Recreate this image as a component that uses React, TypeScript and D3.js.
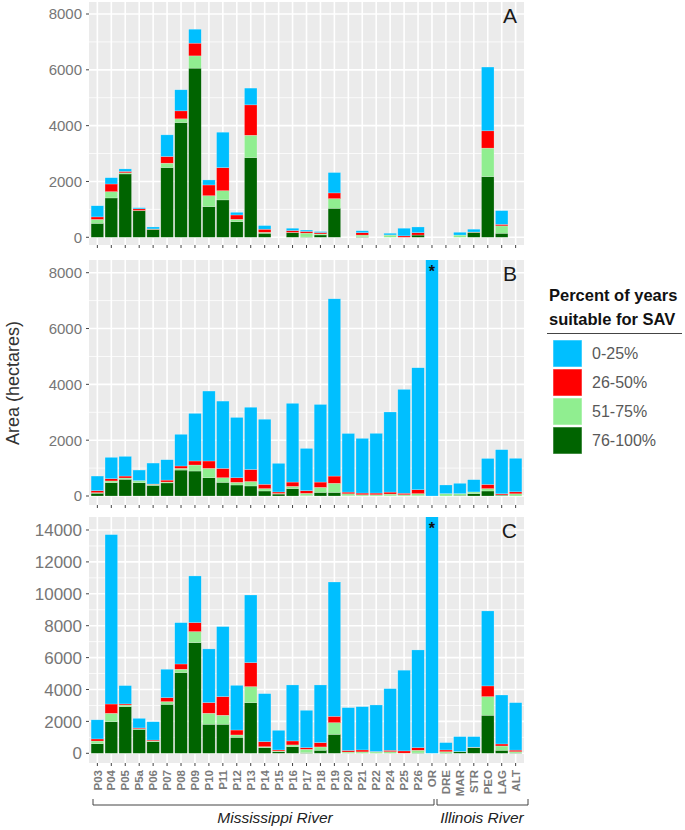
import React, { useEffect, useRef } from "react";
import * as d3 from "d3";

const categories = ["P03", "P04", "P05", "P5a", "P06", "P07", "P08", "P09", "P10", "P11", "P12", "P13", "P14", "P15", "P16", "P17", "P18", "P19", "P20", "P21", "P22", "P24", "P25", "P26", "OR", "DRE", "MAR", "STR", "PEO", "LAG", "ALT"];

// stacked bottom -> top
const seriesKeys = ["76-100%", "51-75%", "26-50%", "0-25%"];
const legendOrder = ["0-25%", "26-50%", "51-75%", "76-100%"];
const seriesColors: Record<string, string> = {
  "0-25%": "#00BFFF",
  "26-50%": "#FF0000",
  "51-75%": "#90EE90",
  "76-100%": "#006400",
};

// Panel A
const aDark = [500, 1410, 2270, 950, 285, 2500, 4110, 6060, 1100, 1340, 560, 2855, 145, 0, 165, 10, 85, 1040, 0, 20, 0, 0, 0, 80, 0, 0, 0, 180, 2175, 145, 0];
const aLight = [140, 225, 40, 10, 5, 155, 135, 440, 390, 330, 85, 800, 35, 0, 10, 140, 35, 345, 0, 60, 0, 80, 0, 0, 0, 0, 80, 5, 1020, 265, 0];
const aRed = [90, 275, 50, 60, 10, 240, 285, 455, 385, 825, 155, 1090, 110, 0, 65, 60, 50, 205, 0, 85, 0, 5, 50, 85, 0, 0, 0, 5, 620, 55, 0];
const aBlue = [400, 225, 90, 40, 70, 775, 755, 500, 180, 1270, 95, 600, 130, 0, 85, 50, 35, 730, 0, 70, 0, 60, 275, 205, 0, 0, 100, 100, 2285, 490, 0];

// Panel B
const bDark = [100, 480, 600, 475, 380, 470, 930, 895, 655, 490, 395, 360, 180, 70, 265, 15, 130, 130, 10, 5, 5, 5, 5, 10, 0, 0, 25, 85, 180, 30, 0];
const bLight = [20, 60, 45, 70, 40, 30, 60, 215, 335, 165, 95, 160, 85, 20, 80, 80, 180, 325, 70, 40, 40, 65, 40, 75, 0, 85, 60, 60, 85, 10, 80];
const bRed = [70, 80, 70, 5, 10, 70, 85, 145, 265, 335, 165, 430, 155, 55, 155, 95, 190, 260, 60, 60, 60, 70, 55, 140, 0, 0, 0, 0, 150, 40, 70];
const bBlue = [525, 765, 705, 380, 750, 730, 1135, 1705, 2505, 2410, 2160, 2230, 2330, 1025, 2820, 1515, 2780, 6350, 2100, 1960, 2140, 2870, 3720, 4370, 9500, 310, 370, 440, 930, 1580, 1200];

// Panel C
const cDark = [600, 1985, 2925, 1500, 730, 3070, 5060, 6940, 1820, 1820, 1000, 3175, 355, 100, 420, 40, 190, 1190, 10, 10, 10, 10, 0, 20, 0, 20, 100, 355, 2385, 190, 20];
const cLight = [170, 520, 100, 40, 40, 170, 210, 690, 690, 565, 150, 1005, 60, 40, 105, 210, 210, 730, 70, 80, 80, 90, 10, 170, 0, 80, 10, 20, 1170, 270, 80];
const cRed = [130, 585, 70, 50, 60, 250, 330, 565, 670, 1170, 310, 1505, 315, 70, 250, 105, 270, 400, 100, 120, 20, 90, 140, 165, 0, 110, 0, 10, 670, 125, 100];
const cBlue = [1200, 10620, 1150, 600, 1150, 1780, 2590, 2925, 3365, 4390, 2800, 4240, 3010, 1230, 3510, 2340, 3615, 8420, 2685, 2715, 2920, 3865, 5060, 6125, 16000, 460, 935, 660, 4700, 3070, 2975];

const ticks8k = [0, 2000, 4000, 6000, 8000];
const minor8k = [1000, 3000, 5000, 7000];
const ticks14k = [0, 2000, 4000, 6000, 8000, 10000, 12000, 14000];
const minor14k = [1000, 3000, 5000, 7000, 9000, 11000, 13000];

const panels = [
  { letter: "A", top: 2, bottom: 245, yMin: -276, yMax: 8430, ticks: ticks8k, minor: minor8k, font: 15, star: false, values: [aDark, aLight, aRed, aBlue] },
  { letter: "B", top: 260, bottom: 505, yMin: -322, yMax: 8455, ticks: ticks8k, minor: minor8k, font: 15, star: true, values: [bDark, bLight, bRed, bBlue] },
  { letter: "C", top: 517, bottom: 763, yMin: -608, yMax: 14815, ticks: ticks14k, minor: minor14k, font: 17, star: true, values: [cDark, cLight, cRed, cBlue] },
];

const FONT = "'Liberation Sans', Arial, sans-serif";

export default function App() {
  const ref = useRef<SVGSVGElement>(null);

  useEffect(() => {
    const svg = d3.select(ref.current);
    svg.selectAll("*").remove();

    const left = 89;
    const right = 524;
    const x = d3.scaleBand().domain(categories).range([left, right]).paddingInner(0.1).paddingOuter(0.15);
    const cx = (c: string) => (x(c) as number) + x.bandwidth() / 2;

    panels.forEach((p, pi) => {
      const y = d3.scaleLinear().domain([p.yMin, p.yMax]).range([p.bottom, p.top]);
      const g = svg.append("g");

      g.append("rect").attr("x", left).attr("y", p.top).attr("width", right - left)
        .attr("height", p.bottom - p.top).attr("fill", "#EBEBEB");

      g.selectAll(".minor").data(p.minor).join("line")
        .attr("x1", left).attr("x2", right).attr("y1", d => y(d)).attr("y2", d => y(d))
        .attr("stroke", "white").attr("stroke-width", 0.8);
      g.selectAll(".major").data(p.ticks).join("line")
        .attr("x1", left).attr("x2", right).attr("y1", d => y(d)).attr("y2", d => y(d))
        .attr("stroke", "white").attr("stroke-width", 1.6);
      g.selectAll(".vgrid").data(categories).join("line")
        .attr("x1", d => cx(d)).attr("x2", d => cx(d)).attr("y1", p.top).attr("y2", p.bottom)
        .attr("stroke", "white").attr("stroke-width", 1.6);

      const rows = categories.map((c, i) => {
        const r: any = { cat: c };
        seriesKeys.forEach((k, j) => { r[k] = p.values[j][i]; });
        return r;
      });
      const stacked = d3.stack().keys(seriesKeys)(rows);

      const clipId = "clip" + pi;
      svg.append("clipPath").attr("id", clipId).append("rect")
        .attr("x", left).attr("y", p.top).attr("width", right - left).attr("height", p.bottom - p.top);

      const bars = g.append("g").attr("clip-path", `url(#${clipId})`);
      stacked.forEach(s => {
        bars.selectAll(null).data(s.filter(d => d[1] - d[0] > 0)).join("rect")
          .attr("x", d => x(d.data.cat as any) as number)
          .attr("width", x.bandwidth())
          .attr("y", d => y(d[1]))
          .attr("height", d => y(d[0]) - y(d[1]))
          .attr("fill", seriesColors[s.key])
          .attr("stroke", "white").attr("stroke-opacity", 0.45).attr("stroke-width", 0.5);
      });

      // y axis
      g.selectAll(".ytick").data(p.ticks).join("line")
        .attr("x1", left - 3).attr("x2", left).attr("y1", d => y(d)).attr("y2", d => y(d))
        .attr("stroke", "#444").attr("stroke-width", 1);
      g.selectAll(".ylab").data(p.ticks).join("text")
        .attr("x", left - 7).attr("y", d => y(d)).attr("dy", "0.36em")
        .attr("text-anchor", "end").attr("font-family", FONT).attr("font-size", p.font)
        .attr("fill", "#767676").text(d => String(d));

      // x ticks
      g.selectAll(".xtick").data(categories).join("line")
        .attr("x1", d => cx(d)).attr("x2", d => cx(d)).attr("y1", p.bottom).attr("y2", p.bottom + 3)
        .attr("stroke", "#444").attr("stroke-width", 1);

      g.append("text").attr("x", 517).attr("y", p.top + 21).attr("text-anchor", "end")
        .attr("font-family", FONT).attr("font-size", 21).attr("fill", "#1a1a1a").text(p.letter);

      if (p.star) {
        g.append("text").attr("x", cx("OR")).attr("y", p.top + 17).attr("text-anchor", "middle")
          .attr("font-family", FONT).attr("font-weight", "bold").attr("font-size", 16)
          .attr("fill", "#111").text("*");
      }

      if (pi === panels.length - 1) {
        g.selectAll(".xlab").data(categories).join("text")
          .attr("transform", d => `translate(${cx(d)},${p.bottom + 7}) rotate(-90)`)
          .attr("dy", "0.36em").attr("text-anchor", "end")
          .attr("font-family", FONT).attr("font-weight", "bold").attr("font-size", 11.5)
          .attr("fill", "#7a7a7a").text(d => d);
      }
    });

    // y axis title
    svg.append("text").attr("transform", "translate(19,383) rotate(-90)")
      .attr("text-anchor", "middle").attr("font-family", FONT).attr("font-size", 18)
      .attr("fill", "#333").text("Area (hectares)");

    // river brackets
    const bracket = (x0: number, x1: number) =>
      svg.append("path").attr("d", `M${x0},799V805H${x1}V799`).attr("fill", "none")
        .attr("stroke", "#444").attr("stroke-width", 1);
    bracket(93, 434);
    bracket(437, 528);
    svg.append("text").attr("x", 275).attr("y", 823).attr("text-anchor", "middle")
      .attr("font-family", FONT).attr("font-style", "italic").attr("font-size", 15.5)
      .attr("fill", "#222").text("Mississippi River");
    svg.append("text").attr("x", 482).attr("y", 823).attr("text-anchor", "middle")
      .attr("font-family", FONT).attr("font-style", "italic").attr("font-size", 15.5)
      .attr("fill", "#222").text("Illinois River");

    // legend
    const lg = svg.append("g");
    lg.append("text").attr("x", 549).attr("y", 301).attr("font-family", FONT)
      .attr("font-weight", "bold").attr("font-size", 16.5).attr("fill", "#111").text("Percent of years");
    lg.append("text").attr("x", 549).attr("y", 325).attr("font-family", FONT)
      .attr("font-weight", "bold").attr("font-size", 16.5).attr("fill", "#111").text("suitable for SAV");
    lg.append("line").attr("x1", 547).attr("x2", 682).attr("y1", 333.5).attr("y2", 333.5)
      .attr("stroke", "#444").attr("stroke-width", 1);
    lg.selectAll(".key").data(legendOrder).join("rect")
      .attr("x", 553).attr("y", (d, i) => 340 + i * 29).attr("width", 29).attr("height", 27)
      .attr("fill", d => seriesColors[d]).attr("stroke", "white").attr("stroke-opacity", 0.5);
    lg.selectAll(".klab").data(legendOrder).join("text")
      .attr("x", 592).attr("y", (d, i) => 353.5 + i * 29).attr("dy", "0.36em")
      .attr("font-family", FONT).attr("font-size", 16).attr("fill", "#595959").text(d => d);
  }, []);

  return (
    <svg ref={ref} width={685} height={830}
      style={{ position: "absolute", left: 0, top: 0, background: "white" }} />
  );
}
